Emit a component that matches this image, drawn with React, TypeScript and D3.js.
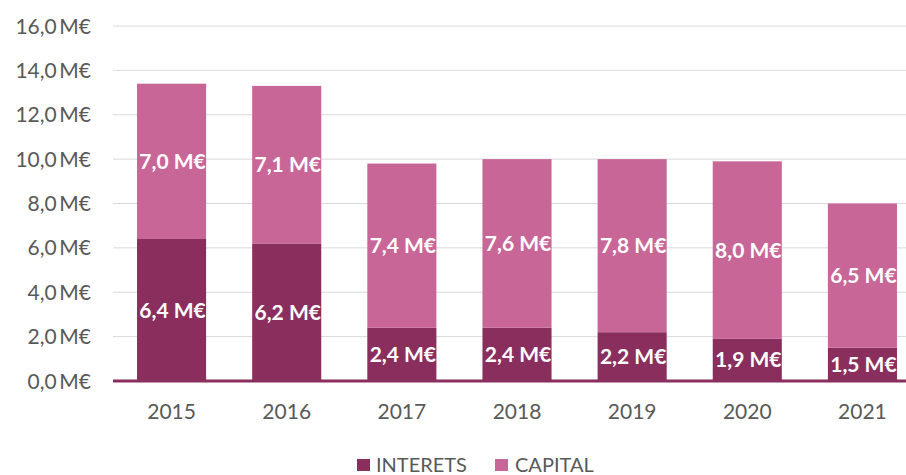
import React from "react";
import * as d3 from "d3";

const years = ["2015", "2016", "2017", "2018", "2019", "2020", "2021"];
const interets = [6.4, 6.2, 2.4, 2.4, 2.2, 1.9, 1.5];
const capital = [7.0, 7.1, 7.4, 7.6, 7.8, 8.0, 6.5];
const yTicks = [0, 2, 4, 6, 8, 10, 12, 14, 16];
const seriesNames = ["INTERETS", "CAPITAL"];

const W = 906;
const H = 475;
const DARK = "#8A2F5D";
const PINK = "#C96698";
const FONT = "Lato, 'Open Sans', sans-serif";

const fmt = (v: number) => v.toFixed(1).replace(".", ",") + " M€";

export default function App() {
  const x = d3.scaleBand<string>().domain(years).range([114, 920]).paddingInner(0.4).paddingOuter(0.2);
  const y = d3.scaleLinear().domain([0, 16]).range([381, 26]);
  const bw = x.bandwidth();

  return (
    <svg width={W} height={H} style={{ position: "absolute", left: 0, top: 0, background: "#fff" }} fontFamily={FONT}>
      {yTicks.map((t) => (
        <g key={t}>
          {t > 0 && <line x1={113} x2={W} y1={y(t)} y2={y(t)} stroke="#D9D9D9" strokeWidth={1} />}
          <text x={91} y={y(t)} dy="0.36em" textAnchor="end" fontSize={21} fill="#595959">
            {t.toFixed(1).replace(".", ",") + "\u2009M€"}
          </text>
        </g>
      ))}
      {years.map((yr, i) => {
        const x0 = x(yr)!;
        const i0 = y(0), i1 = y(interets[i]);
        const c1 = y(interets[i] + capital[i]);
        return (
          <g key={yr}>
            <rect x={x0} y={i1} width={bw} height={i0 - i1} fill={DARK} />
            <rect x={x0} y={c1} width={bw} height={i1 - c1} fill={PINK} />
            <text x={x0 + bw / 2 + 1} y={(i0 + i1) / 2} dy="0.36em" textAnchor="middle" fontSize={21} fontWeight="bold" fill="#fff">
              {fmt(interets[i])}
            </text>
            <text x={x0 + bw / 2 + 1} y={(i1 + c1) / 2} dy="0.36em" textAnchor="middle" fontSize={21} fontWeight="bold" fill="#fff">
              {fmt(capital[i])}
            </text>
            <text x={x0 + bw / 2} y={411} dy="0.36em" textAnchor="middle" fontSize={21} fill="#595959">
              {yr}
            </text>
          </g>
        );
      })}
      <line x1={113} x2={W} y1={y(0)} y2={y(0)} stroke={DARK} strokeWidth={3} />
      <g>
        <rect x={357} y={459} width={13} height={12} fill={DARK} />
        <text x={376} y={465} dy="0.36em" fontSize={20} fill="#595959">{seriesNames[0]}</text>
        <rect x={495} y={459} width={13} height={12} fill={PINK} />
        <text x={515} y={465} dy="0.36em" fontSize={20} fill="#595959">{seriesNames[1]}</text>
      </g>
    </svg>
  );
}
